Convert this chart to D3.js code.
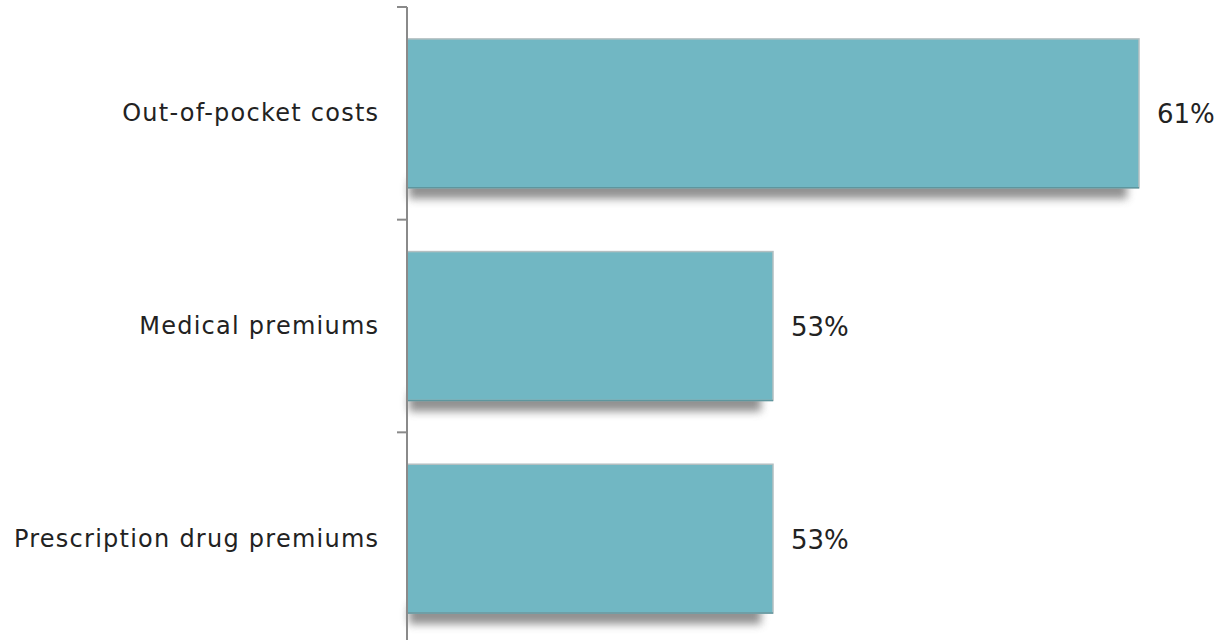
<!DOCTYPE html>
<html>
<head>
<meta charset="utf-8">
<script src="https://cdn.jsdelivr.net/npm/d3@7"></script>
<style>
  html, body { margin: 0; padding: 0; background: #fff; }
  svg { display: block; }
  text { font-family: "DejaVu Sans", Verdana, sans-serif; fill: #222; }
</style>
</head>
<body>
<svg id="chart" width="1218" height="640"></svg>
<script>
// Share of respondents citing each cost
const categories = ["Out-of-pocket costs", "Medical premiums", "Prescription drug premiums"];
const values = [61, 53, 53];
const valueLabels = ["61%", "53%", "53%"];
const xDomain = [45, 61];

const svg = d3.select("#chart");
const W = 1218, H = 640;
const axisX = 407;

const x = d3.scaleLinear().domain(xDomain).range([axisX, 1139]);
const y = d3.scaleBand().domain(categories).range([7, 645])
  .paddingInner(0.3).paddingOuter(0.15);

const defs = svg.append("defs");
const f = defs.append("filter").attr("id", "shadow")
  .attr("x", "-10%").attr("y", "-80%").attr("width", "120%").attr("height", "260%");
f.append("feGaussianBlur").attr("stdDeviation", 4.2);

const rows = categories.map((c, i) => ({ c, v: values[i], label: valueLabels[i] }));

// soft drop shadow under each bar
svg.append("g").selectAll("rect").data(rows).join("rect")
  .attr("x", axisX + 2)
  .attr("y", d => y(d.c) + y.bandwidth() - 8)
  .attr("width", d => x(d.v) - axisX - 14)
  .attr("height", 19)
  .attr("fill", "#747474")
  .attr("opacity", 0.8)
  .attr("filter", "url(#shadow)");

// bars
const bars = svg.append("g");
bars.selectAll("rect").data(rows).join("rect")
  .attr("x", axisX)
  .attr("y", d => y(d.c))
  .attr("width", d => x(d.v) - axisX)
  .attr("height", y.bandwidth())
  .attr("fill", "#71b7c3")
  .attr("stroke", "#b3bfc1")
  .attr("stroke-width", 1.5);
// darker lower edge
bars.selectAll("line").data(rows).join("line")
  .attr("x1", axisX)
  .attr("x2", d => x(d.v))
  .attr("y1", d => y(d.c) + y.bandwidth())
  .attr("y2", d => y(d.c) + y.bandwidth())
  .attr("stroke", "#5e969e")
  .attr("stroke-width", 1.5);

// category axis with ticks at band boundaries
const gap = (y.step() - y.bandwidth()) / 2;
const axis = svg.append("g");
axis.append("line")
  .attr("x1", axisX).attr("x2", axisX)
  .attr("y1", 7).attr("y2", H)
  .attr("stroke", "#8a8a8a").attr("stroke-width", 2);
axis.selectAll("line.tick").data(categories).join("line")
  .attr("class", "tick")
  .attr("x1", axisX - 10).attr("x2", axisX)
  .attr("y1", d => y(d) - gap).attr("y2", d => y(d) - gap)
  .attr("stroke", "#8a8a8a").attr("stroke-width", 2);

axis.selectAll("text").data(categories).join("text")
  .attr("x", 379.3)
  .attr("y", d => y(d) + y.bandwidth() / 2)
  .attr("text-anchor", "end")
  .attr("dominant-baseline", "central")
  .attr("font-size", 24)
  .attr("letter-spacing", 1.25)
  .text(d => d);

// value labels
svg.append("g").selectAll("text").data(rows).join("text")
  .attr("x", d => x(d.v) + 18)
  .attr("y", d => y(d.c) + y.bandwidth() / 2 + 1)
  .attr("dominant-baseline", "central")
  .attr("font-size", 26)
  .text(d => d.label);
</script>
</body>
</html>
